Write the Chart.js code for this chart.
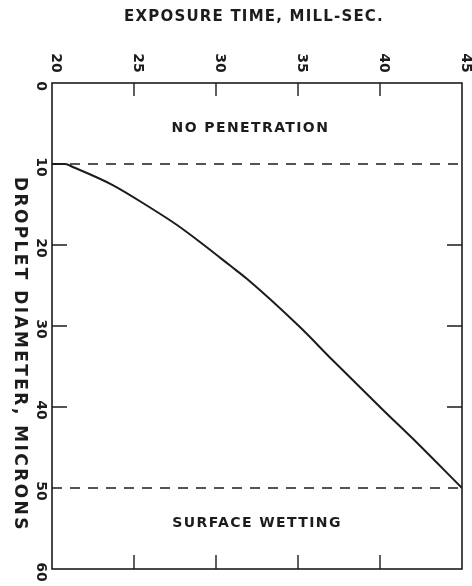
<!DOCTYPE html>
<html><head><meta charset="utf-8">
<script src="https://cdn.jsdelivr.net/npm/chart.js@4"></script>
<style>html,body{margin:0;padding:0;background:#fff}</style>
</head><body>
<canvas id="c" width="472" height="586"></canvas>
<script>
// Axis ticks
const exposureTicks = [20, 25, 30, 35, 40, 45];      // exposure time, ms
const diameterTicks = [0, 10, 20, 30, 40, 50, 60];   // droplet diameter, microns

// Boundary curve between penetration regimes
const curveTime     = [20, 20.8, 21.3, 23.7, 26.0, 27.6, 29.2, 30.9, 31.9, 35.1, 37.1, 40.2, 42.3, 45];
const curveDiameter = [10, 10, 10.4, 12.6, 15.4, 17.5, 19.9, 22.6, 24.2, 30.1, 34.2, 40.4, 44.5, 50];

// Horizontal regime limits
const limitDiameters = [10, 50];
const regionNames = ['NO PENETRATION', 'SURFACE WETTING'];

const INK = '#1c1c1c';
const FONT = '"DejaVu Sans", sans-serif';

const tMin = exposureTicks[0], tMax = exposureTicks[exposureTicks.length - 1];
const dMin = diameterTicks[0], dMax = diameterTicks[diameterTicks.length - 1];

const curvePoints = curveTime.map((t, i) => ({ x: t, y: curveDiameter[i] }));
const limitSets = limitDiameters.map(d => ({
  data: [{ x: tMin, y: d }, { x: tMax, y: d }],
  borderColor: INK, borderWidth: 1.5, borderDash: [10, 8],
  pointRadius: 0, fill: false
}));

const frame = {
  id: 'frame',
  afterDatasetsDraw(chart) {
    const { ctx, chartArea: a, scales: { x, y } } = chart;
    ctx.save();
    ctx.strokeStyle = INK;
    ctx.fillStyle = INK;
    ctx.lineWidth = 1.6;
    ctx.strokeRect(a.left, a.top, a.right - a.left, a.bottom - a.top);

    // inward tick marks
    ctx.lineWidth = 1.4;
    ctx.beginPath();
    exposureTicks.slice(1, -1).forEach(t => {
      const px = x.getPixelForValue(t);
      ctx.moveTo(px, a.top); ctx.lineTo(px, a.top + 13);
      ctx.moveTo(px, a.bottom); ctx.lineTo(px, a.bottom - 14);
    });
    diameterTicks.filter(d => d > dMin && d < dMax && !limitDiameters.includes(d)).forEach(d => {
      const py = y.getPixelForValue(d);
      ctx.moveTo(a.left, py); ctx.lineTo(a.left + 15, py);
      ctx.moveTo(a.right, py); ctx.lineTo(a.right - 15, py);
    });
    ctx.stroke();

    // tick labels, written sideways
    ctx.font = 'bold 14px ' + FONT;
    ctx.textAlign = 'center';
    ctx.textBaseline = 'middle';
    exposureTicks.forEach(t => {
      ctx.save();
      ctx.translate(x.getPixelForValue(t) + 4, a.top - 20);
      ctx.rotate(Math.PI / 2);
      ctx.fillText(String(t), 0, 0);
      ctx.restore();
    });
    diameterTicks.forEach(d => {
      ctx.save();
      ctx.translate(a.left - 11, y.getPixelForValue(d) + 3);
      ctx.rotate(Math.PI / 2);
      ctx.fillText(String(d), 0, 0);
      ctx.restore();
    });

    // axis titles
    ctx.font = 'bold 15px ' + FONT;
    ctx.letterSpacing = '1.2px';
    ctx.fillText('EXPOSURE TIME, MILL-SEC.', 254, 17);
    ctx.save();
    ctx.font = 'bold 17px ' + FONT;
    ctx.letterSpacing = '2.4px';
    ctx.translate(19, y.getPixelForValue(33.5));
    ctx.rotate(Math.PI / 2);
    ctx.fillText('DROPLET DIAMETER, MICRONS', 0, 0);
    ctx.restore();

    // region names
    ctx.font = 'bold 14px ' + FONT;
    ctx.letterSpacing = '1.4px';
    ctx.fillText(regionNames[0], x.getPixelForValue(32.1), y.getPixelForValue(5.6));
    ctx.fillText(regionNames[1], x.getPixelForValue(32.5), y.getPixelForValue(54.4));
    ctx.restore();
  }
};

new Chart(document.getElementById('c'), {
  type: 'line',
  data: {
    datasets: [
      { data: curvePoints, borderColor: INK, borderWidth: 2, pointRadius: 0,
        cubicInterpolationMode: 'monotone', fill: false },
      ...limitSets
    ]
  },
  options: {
    responsive: false,
    animation: false,
    devicePixelRatio: 1,
    layout: { padding: { left: 52, right: 10, top: 83, bottom: 17 } },
    plugins: { legend: { display: false }, tooltip: { enabled: false } },
    scales: {
      x: { type: 'linear', min: tMin, max: tMax, display: false },
      y: { type: 'linear', min: dMin, max: dMax, reverse: true, display: false }
    }
  },
  plugins: [frame]
});
</script>
</body></html>
